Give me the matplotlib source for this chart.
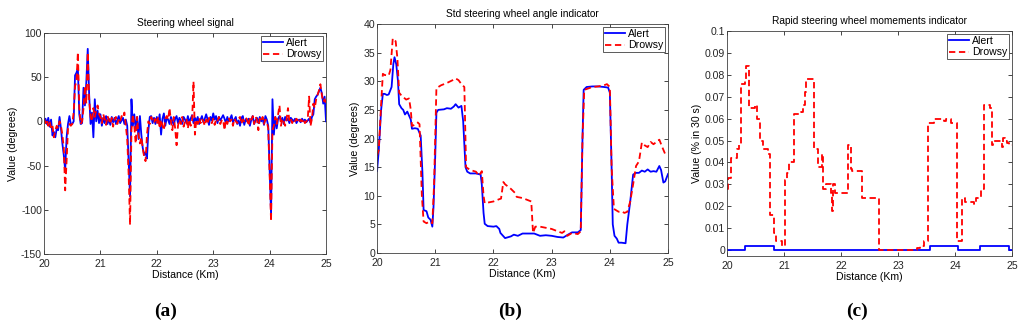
import numpy as np
import matplotlib
matplotlib.use("Agg")
import matplotlib.pyplot as plt
from matplotlib.ticker import FormatStrFormatter

plt.rcParams['font.family'] = ['Liberation Sans', 'DejaVu Sans']
plt.rcParams['axes.unicode_minus'] = False

# (a) Steering wheel signal, sampled every 25 m
a_x = np.linspace(20, 25, 201)
a_alert = [
    0, 3, -3, 4, -6, 2, -16, -12,
    -18, -8, -10, 5, -8, -25, -38, -55,
    -18, -3, 6, -3, -3, 0, 52, 55,
    60, 8, -3, -2, 38, 18, 45, 82,
    30, -3, 10, -18, 25, 0, 12, -2,
    8, -5, 4, -2, 6, -3, 3, -4,
    5, -1, 4, -3, 2, 6, -2, 1,
    4, -3, 2, -5, -45, -85, 25, -5,
    8, -10, 5, -20, 6, -15, -30, -38,
    -35, -42, -10, 5, 6, -2, 4, -3,
    5, -2, 8, -15, 3, 9, -5, 4,
    2, -3, 5, 0, -4, 3, 6, -2,
    4, 1, -3, 5, 2, -2, 6, -1,
    3, 7, -2, 4, 0, 5, -3, 2,
    6, -1, 3, 8, 2, -4, 5, 1,
    9, 2, 6, -2, 5, 1, 4, 7,
    3, -2, 5, 0, 3, 7, -1, 2,
    5, -3, 1, -5, 4, 6, -4, 2,
    0, 3, -5, 2, 6, -3, 1, 4,
    -2, 5, 0, 3, -4, 6, 2, -5,
    -55, -105, 25, -15, 5, -8, 3, 6,
    0, 4, -3, 5, 1, 3, -2, 4,
    2, 0, 3, -2, 1, 2, -1, 3,
    0, 2, -1, 1, 3, -2, 5, 8,
    25, 28, 30, 34, 38, 32, 20, 28, 0,
]
a_drowsy = [
    3, -2, 2, -5, 0, -8, -5, -18,
    -10, -5, -8, 0, -5, -15, -30, -78,
    -45, -8, -3, -5, -3, 10, 40, 45,
    78, 15, -3, 0, 15, 40, 20, 78,
    25, 5, 0, 15, 5, 12, 18, 8,
    5, -2, 8, 3, -4, 6, 2, -3,
    4, -6, 2, 5, -3, 3, 0, 6,
    4, 10, -5, -20, -60, -117, -10, 8,
    -5, -25, 5, -15, -25, -18, -30, -40,
    -45, -15, 0, -3, 5, 2, -2, 3,
    -3, 5, -8, 2, -5, -10, 3, 6,
    2, 15, 0, -10, 5, -8, -27, -5,
    2, -3, 5, -6, 0, 3, -8, 2,
    -5, 0, 45, -15, 2, -3, 4, -2,
    3, 0, -5, 2, -3, 4, 0, -2,
    3, -4, 2, 0, 5, -3, 1, 2,
    -10, 2, -3, 4, 0, 2, -5, 3,
    0, -2, 3, 5, -3, 2, 0, 4,
    2, -5, 3, 0, 6, -3, 5, 2,
    -10, 3, 0, 5, -3, 2, 0, -8,
    -60, -113, -10, -5, 5, -3, 8, 18,
    -5, 3, 0, -5, 2, 15, 0, 3,
    -2, 2, 0, 3, 1, -2, 2, 0,
    3, -2, 0, 2, 28, -5, 3, 20,
    15, 25, 30, 35, 42, 30, 22, 25, 20,
]

# (b) Std steering wheel angle indicator
b_alert_x = [20.0, 20.03, 20.07, 20.1, 20.13, 20.17, 20.2, 20.25, 20.28, 20.3, 20.33, 20.36,
             20.38, 20.42, 20.45, 20.48, 20.52, 20.55, 20.58, 20.6, 20.65, 20.7, 20.75, 20.78,
             20.8, 20.85, 20.88, 20.92, 20.95, 20.97, 21.0, 21.02, 21.05, 21.15, 21.2, 21.27,
             21.32, 21.35, 21.4, 21.45, 21.48, 21.52, 21.55, 21.6, 21.7, 21.78, 21.8, 21.83,
             21.85, 21.9, 22.0, 22.05, 22.1, 22.12, 22.2, 22.3, 22.35, 22.42, 22.5, 22.6,
             22.7, 22.8, 22.9, 23.0, 23.1, 23.2, 23.28, 23.35, 23.45, 23.5, 23.53, 23.55,
             23.6, 23.7, 23.8, 23.9, 23.97, 24.0, 24.03, 24.05, 24.08, 24.12, 24.15, 24.2,
             24.27, 24.3, 24.35, 24.4, 24.45, 24.5, 24.55, 24.6, 24.65, 24.7, 24.75, 24.8,
             24.85, 24.88, 24.92, 24.95, 25.0]
b_alert = [14.3, 18, 25, 27.8, 27.8, 27.6, 27.7, 29, 33, 34.2, 33, 30,
           26, 25.3, 25, 24.2, 24.7, 24, 23.3, 21.7, 21.8, 21.7, 20.5, 14,
           7.5, 7.3, 6.2, 5.8, 4.6, 8, 17, 24.5, 25, 25.1, 25.3, 25.2,
           25.6, 26, 25.4, 25.7, 23, 15, 14.2, 13.9, 13.9, 13.7, 12, 7,
           5.1, 4.7, 4.6, 4.7, 4.2, 3.5, 2.6, 2.9, 3.2, 3.0, 3.4, 3.4,
           3.4, 3.0, 3.1, 3.0, 2.8, 2.7, 3.2, 3.6, 3.6, 4, 20, 28.5,
           29, 29.1, 29.1, 29.0, 28.9, 28, 15, 5, 3, 2.5, 1.8, 1.8,
           1.7, 5, 9, 13.7, 14, 14, 14.4, 14.2, 14.6, 14.2, 14.3, 14.2,
           15.2, 14.5, 12.3, 12.5, 13.8]
b_drowsy_x = [20.0, 20.03, 20.07, 20.1, 20.13, 20.2, 20.23, 20.27, 20.32, 20.35, 20.38, 20.42,
              20.5, 20.55, 20.58, 20.6, 20.65, 20.7, 20.73, 20.77, 20.8, 20.85, 20.9, 20.95,
              20.98, 21.02, 21.1, 21.2, 21.3, 21.35, 21.4, 21.45, 21.5, 21.53, 21.6, 21.7,
              21.75, 21.8, 21.83, 21.85, 21.9, 22.0, 22.1, 22.13, 22.17, 22.2, 22.3, 22.37,
              22.4, 22.5, 22.6, 22.65, 22.68, 22.72, 22.8, 22.9, 23.0, 23.1, 23.18, 23.22,
              23.27, 23.35, 23.45, 23.5, 23.53, 23.56, 23.7, 23.8, 23.9, 23.95, 24.0, 24.03,
              24.07, 24.15, 24.2, 24.25, 24.3, 24.35, 24.4, 24.45, 24.5, 24.55, 24.6, 24.65,
              24.7, 24.75, 24.8, 24.85, 24.9, 24.95, 25.0]
b_drowsy = [17, 18, 26, 31.3, 31.1, 31.0, 32, 37.5, 37, 34, 28, 27.5,
            26.8, 27, 25, 22.2, 22.4, 22.8, 22.5, 10, 5.5, 5.2, 5.5, 5.2,
            12, 28.8, 29.3, 29.7, 30.2, 30.5, 30.2, 29.5, 29, 15, 14.5, 14.2,
            13.5, 14.3, 10, 8.7, 8.8, 9.0, 9.4, 9.5, 12.4, 12.0, 11.2, 10.5,
            9.8, 9.6, 9.2, 9, 3.5, 4.6, 4.6, 4.4, 4.2, 3.8, 3.5, 3.8,
            3.0, 3.5, 3.3, 3.8, 20, 28.5, 29.0, 29.1, 29.3, 29.5, 29, 15,
            7.7, 7.2, 7.3, 7, 7.2, 9, 12, 15.2, 16, 19.3, 18.8, 18.5,
            19.4, 19.0, 19.4, 19.8, 18.5, 17.3, 17.5]

# (c) Rapid steering wheel movements indicator (step values)
c_alert_x = [20.0, 20.31, 20.82, 23.56, 24.06, 24.44, 24.94, 25.0]
c_alert = [0, 0.002, 0, 0.002, 0, 0.002, 0, 0]
c_drowsy_x = [20.00, 20.02, 20.07, 20.17, 20.21, 20.25, 20.31, 20.33, 20.39, 20.49,
              20.52, 20.57, 20.63, 20.71, 20.75, 20.82, 20.86, 20.97, 21.02, 21.05,
              21.09, 21.18, 21.30, 21.33, 21.37, 21.39, 21.52, 21.60, 21.66, 21.69,
              21.74, 21.82, 21.85, 21.86, 21.89, 22.13, 22.17, 22.19, 22.37, 22.67,
              23.33, 23.39, 23.45, 23.53, 23.63, 23.80, 23.84, 23.93, 24.03, 24.13,
              24.18, 24.33, 24.36, 24.46, 24.51, 24.62, 24.64, 24.66, 24.82, 24.85,
              24.88, 24.91, 24.95, 25.00]
c_drowsy = [0.028, 0.033, 0.042, 0.046, 0.048, 0.076, 0.077, 0.084, 0.065, 0.066,
            0.060, 0.050, 0.046, 0.044, 0.016, 0.008, 0.004, 0.002, 0.032, 0.035,
            0.040, 0.062, 0.063, 0.066, 0.072, 0.078, 0.046, 0.038, 0.044, 0.028,
            0.030, 0.026, 0.018, 0.030, 0.026, 0.048, 0.037, 0.036, 0.024, 0.000,
            0.001, 0.002, 0.004, 0.058, 0.060, 0.059, 0.060, 0.058, 0.004, 0.024,
            0.022, 0.021, 0.024, 0.028, 0.066, 0.065, 0.048, 0.050, 0.047, 0.051,
            0.050, 0.049, 0.048, 0.048]

fig = plt.figure(figsize=(10.24, 3.28), dpi=100)
ax1 = fig.add_axes([0.043, 0.2256, 0.2754, 0.674])
ax2 = fig.add_axes([0.3682, 0.2287, 0.2842, 0.698])
ax3 = fig.add_axes([0.710, 0.2195, 0.2783, 0.686])

blue = '#0000ff'
red = '#ff0000'
lw = 1.3
dash = (3.5, 2)

ax1.plot(a_x, a_alert, color=blue, lw=lw, label='Alert')
ax1.plot(a_x, a_drowsy, color=red, lw=lw, dashes=dash, label='Drowsy')
ax1.set_ylim(-150, 100)
ax1.set_yticks(np.arange(-150, 101, 50))

ax2.plot(b_alert_x, b_alert, color=blue, lw=lw, label='Alert')
ax2.plot(b_drowsy_x, b_drowsy, color=red, lw=lw, dashes=dash, label='Drowsy')
ax2.set_ylim(0, 40)
ax2.set_yticks(np.arange(0, 41, 5))

ax3.step(c_alert_x, c_alert, where='post', color=blue, lw=lw, label='Alert')
ax3.step(c_drowsy_x, c_drowsy, where='post', color=red, lw=lw, dashes=dash, label='Drowsy')
ax3.set_ylim(-0.0027, 0.1)
ax3.set_yticks(np.arange(0, 0.101, 0.01))
ax3.yaxis.set_major_formatter(FormatStrFormatter('%g'))

titles = ['Steering wheel signal', 'Std steering wheel angle indicator',
          'Rapid steering wheel momements indicator']
ylabels = ['Value (degrees)', 'Value (degrees)', 'Value (% in 30 s)']
for ax, t, yl in zip([ax1, ax2, ax3], titles, ylabels):
    ax.set_xlim(20, 25)
    ax.set_xticks([20, 21, 22, 23, 24, 25])
    ax.set_title(t, fontsize=7.3, pad=5)
    ax.set_xlabel('Distance (Km)', fontsize=7.6, labelpad=0.5)
    ax.set_ylabel(yl, fontsize=7.6, labelpad=2)
    ax.tick_params(axis='both', direction='in', length=3, width=0.6, labelsize=7.6,
                   top=True, right=True, colors='#262626')
    ax.tick_params(axis='x', pad=3.5)
    ax.tick_params(axis='y', pad=1.5)
    for s in ax.spines.values():
        s.set_linewidth(0.6)
        s.set_color('#404040')
    leg = ax.legend(loc='upper right', fontsize=7.6, frameon=True, fancybox=False,
                    framealpha=1, borderaxespad=0.25, handlelength=1.9,
                    borderpad=0.2, labelspacing=0.15, handletextpad=0.3)
    leg.get_frame().set_edgecolor('#404040')
    leg.get_frame().set_linewidth(0.6)

for lab, xp in zip(['(a)', '(b)', '(c)'], [166, 510, 857]):
    fig.text(xp / 1024, 1 - 311 / 328, lab, ha='center', va='center',
             fontsize=14, fontweight='bold', family='Liberation Serif')

fig.savefig('out.png', dpi=100)
